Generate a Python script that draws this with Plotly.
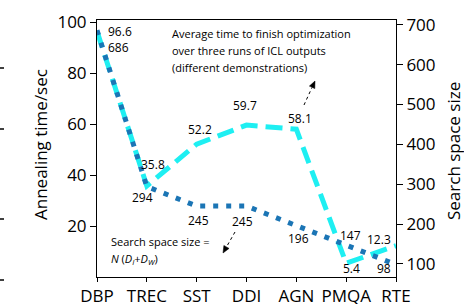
import math
import plotly.graph_objects as go

categories = ["DBP", "TREC", "SST", "DDI", "AGN", "PMQA", "RTE"]
anneal_time = [96.6, 35.8, 52.2, 59.7, 58.1, 5.4, 12.3]
search_size = [686, 294, 245, 245, 196, 147, 98]
anneal_labels = ["96.6", "35.8", "52.2", "59.7", "58.1", "5.4", "12.3"]
size_labels = ["686", "294", "245", "245", "196", "147", "98"]
left_ticks = [20, 40, 60, 80, 100]
right_ticks = [100, 200, 300, 400, 500, 600, 700]

# label offsets (pixels) relative to their points
anneal_off = [(23, 0), (6, 21), (3, 15), (-2, 20), (4, 11), (5, -5), (-17, 6)]
size_off = [(21, -17), (-4, -11), (2, -14), (-4, -15), (2, -13), (4, 10), (-12, -4)]

CYAN = "#1EEFF2"
BLUE = "#1B75B5"
FONT = "Open Sans"

L, R, T, B = 97, 396, 20, 277
W, H = R - L, B - T


def px(xp):
    return (xp - L) / W


def py(yp):
    return (B - yp) / H


xs = list(range(len(categories)))

fig = go.Figure()
fig.add_trace(go.Scatter(
    x=xs, y=anneal_time, mode="lines", yaxis="y",
    line=dict(color=CYAN, width=5, dash="17px,8px"), showlegend=False))
fig.add_trace(go.Scatter(
    x=xs, y=search_size, mode="lines", yaxis="y2",
    line=dict(color=BLUE, width=5, dash="5px,8px"), showlegend=False))

ann = []
for i, (t, (dx, dy)) in enumerate(zip(anneal_labels, anneal_off)):
    ann.append(dict(x=xs[i], y=anneal_time[i], xref="x", yref="y", text=t,
                    showarrow=False, xshift=dx, yshift=dy,
                    font=dict(family=FONT, size=12, color="black")))
for i, (t, (dx, dy)) in enumerate(zip(size_labels, size_off)):
    ann.append(dict(x=xs[i], y=search_size[i], xref="x", yref="y2", text=t,
                    showarrow=False, xshift=dx, yshift=dy,
                    font=dict(family=FONT, size=12, color="black")))

note_lines = ["Average time to finish optimization",
              "over three runs of ICL outputs",
              "(different demonstrations)"]
for k, line in enumerate(note_lines):
    ann.append(dict(x=px(170), y=py(33 + 17 * k),
                    xref="paper", yref="paper", text=line, showarrow=False,
                    xanchor="left", yanchor="middle",
                    font=dict(family=FONT, size=11, color="black")))

ann.append(dict(x=px(109), y=py(241), xref="paper", yref="paper",
                text="Search space size =", showarrow=False,
                xanchor="left", yanchor="middle",
                font=dict(family=FONT, size=11, color="black")))
ann.append(dict(x=px(109), y=py(259), xref="paper", yref="paper",
                text="<i>N</i> (<i>D</i><sub><i>I</i></sub>+<i>D</i><sub><i>W</i></sub>)",
                showarrow=False, xanchor="left", yanchor="middle",
                font=dict(family=FONT, size=11, color="black")))

# axis titles
ann.append(dict(x=px(40), y=py(145), xref="paper", yref="paper",
                text="Annealing time/sec", textangle=-90, showarrow=False,
                xanchor="center", yanchor="middle",
                font=dict(family=FONT, size=17, color="black")))
ann.append(dict(x=px(453), y=py(151), xref="paper", yref="paper",
                text="Search space size", textangle=-90, showarrow=False,
                xanchor="center", yanchor="middle",
                font=dict(family=FONT, size=17, color="black")))

# tick fragments of a neighbouring figure at the left edge
shapes = []
for ypx in [68, 129, 219, 280]:
    shapes.append(dict(type="line", xref="paper", yref="paper",
                       x0=px(0), x1=px(4), y0=py(ypx), y1=py(ypx),
                       line=dict(color="black", width=1.5)))


def arrow(tail, head, hl=7.0, hw=3.0):
    dx, dy = head[0] - tail[0], head[1] - tail[1]
    n = math.hypot(dx, dy)
    ux, uy = dx / n, dy / n
    bx, by = head[0] - hl * ux, head[1] - hl * uy
    nx, ny = -uy, ux
    shapes.append(dict(type="line", xref="paper", yref="paper",
                       x0=px(tail[0]), y0=py(tail[1]), x1=px(bx), y1=py(by),
                       line=dict(color="black", width=1, dash="dot")))
    p1 = (bx + hw * nx, by + hw * ny)
    p2 = (bx - hw * nx, by - hw * ny)
    path = "M {} {} L {} {} L {} {} Z".format(px(head[0]), py(head[1]),
                                              px(p1[0]), py(p1[1]),
                                              px(p2[0]), py(p2[1]))
    shapes.append(dict(type="path", xref="paper", yref="paper", path=path,
                       fillcolor="black", line=dict(color="black", width=0.5)))


arrow((304, 105), (315, 81))
arrow((235, 232), (223, 253))

axis_common = dict(showgrid=False, zeroline=False, showline=True, linecolor="black",
                   linewidth=1, ticks="outside", tickcolor="black", automargin=False,
                   tickfont=dict(family=FONT, size=17, color="black"))

fig.update_layout(
    width=464, height=304,
    margin=dict(l=L, r=464 - R, t=T, b=304 - B, autoexpand=False),
    paper_bgcolor="white", plot_bgcolor="white",
    xaxis=dict(**axis_common, tickmode="array", tickvals=xs, ticktext=categories,
               range=[0, 6], mirror=True, ticklen=4),
    yaxis=dict(**axis_common, range=[0, 101], tickmode="array", tickvals=left_ticks,
               ticklen=6),
    yaxis2=dict(**axis_common, overlaying="y", side="right", range=[67, 712],
                tickmode="array", tickvals=right_ticks, ticklen=6),
    annotations=ann, shapes=shapes,
)

fig.write_html("out.html", config={"displayModeBar": False},
               post_script="document.body.style.margin='0';document.body.style.overflow='hidden';")
